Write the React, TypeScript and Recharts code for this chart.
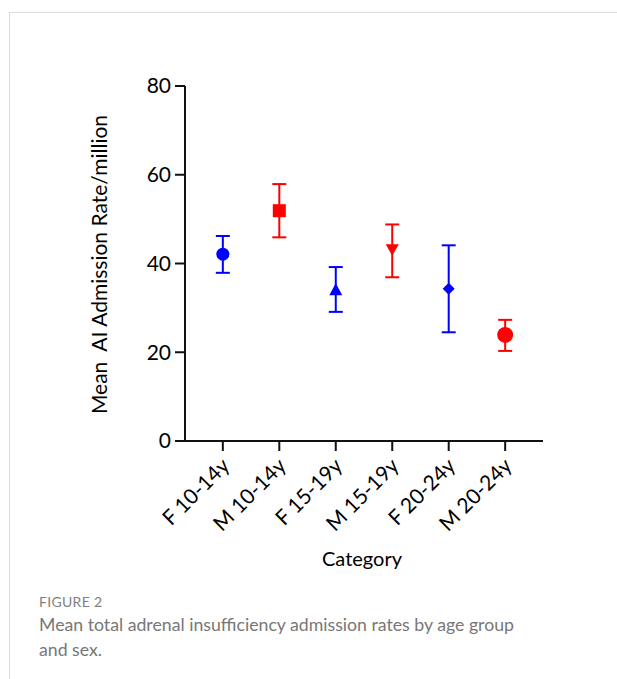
import { ScatterChart, Scatter, XAxis, YAxis, ErrorBar } from 'recharts';

// values (mean, distance to lower cap, distance to upper cap)
const categories = ['F 10-14y', 'M 10-14y', 'F 15-19y', 'M 15-19y', 'F 20-24y', 'M 20-24y'];
const means = [42.1, 51.9, 34.1, 43.1, 34.3, 23.9];
const errLow = [4.2, 6.0, 5.0, 6.2, 9.8, 3.6];
const errHigh = [4.1, 6.0, 5.1, 5.7, 9.8, 3.4];
const yTicks = [0, 20, 40, 60, 80];

// styling per category
const colors = ['#0000ff', '#ff0000', '#0000ff', '#ff0000', '#0000ff', '#ff0000'];
const kinds = ['circle', 'square', 'triangle', 'triangleDown', 'diamond', 'bigCircle'];

const FONT = 'Lato, "Open Sans", sans-serif';

function Marker({ cx, cy, kind, color }: any) {
  if (cx == null || cy == null) return null;
  switch (kind) {
    case 'square':
      return <rect x={cx - 6.5} y={cy - 6.5} width={13} height={13} fill={color} />;
    case 'triangle':
      return <path d={`M${cx},${cy - 6.5} L${cx + 6.5},${cy + 5.5} L${cx - 6.5},${cy + 5.5} Z`} fill={color} />;
    case 'triangleDown':
      return <path d={`M${cx - 6.5},${cy - 5.5} L${cx + 6.5},${cy - 5.5} L${cx},${cy + 6} Z`} fill={color} />;
    case 'diamond':
      return <path d={`M${cx},${cy - 6} L${cx + 6},${cy} L${cx},${cy + 6} L${cx - 6},${cy} Z`} fill={color} />;
    case 'bigCircle':
      return <circle cx={cx} cy={cy} r={8} fill={color} />;
    default:
      return <circle cx={cx} cy={cy} r={6.5} fill={color} />;
  }
}

function XTick({ x, y, payload }: any) {
  return (
    <g transform={`translate(${x + 8},${y + 14})`}>
      <text x={0} y={0} textAnchor="end" transform="rotate(-45)" fontSize={21} fontFamily={FONT} fill="#000">
        {categories[payload.value]}
      </text>
    </g>
  );
}

function YTitle({ viewBox }: any) {
  const cx = viewBox.x - 7;
  const cy = viewBox.y + viewBox.height / 2 + 1;
  return (
    <text
      x={cx}
      y={cy}
      transform={`rotate(-90, ${cx}, ${cy})`}
      textAnchor="middle"
      dominantBaseline="central"
      fontSize={21}
      fontFamily={FONT}
      fill="#000"
      style={{ whiteSpace: 'pre' }}
    >
      {'Mean  AI Admission Rate/million'}
    </text>
  );
}

function XTitle({ viewBox }: any) {
  return (
    <text x={viewBox.x + viewBox.width / 2 - 2} y={566} textAnchor="middle" fontSize={20} fontFamily={FONT} fill="#000">
      Category
    </text>
  );
}

export default function App() {
  const axisStroke = { stroke: '#111', strokeWidth: 2 };
  return (
    <div style={{ position: 'absolute', left: 0, top: 0, width: 617, height: 679, background: '#fff' }}>
      <div
        style={{
          position: 'absolute',
          left: 9,
          top: 12,
          width: 608,
          height: 667,
          borderTop: '1px solid #dcdcdc',
          borderLeft: '1px solid #dcdcdc',
        }}
      />
      <div style={{ position: 'absolute', left: 0, top: 0 }}>
        <ScatterChart width={617} height={679} margin={{ top: 86, right: 74, bottom: 138, left: 105 }}>
          <XAxis
            type="number"
            dataKey="x"
            domain={[-0.67, 5.67]}
            ticks={[0, 1, 2, 3, 4, 5]}
            interval={0}
            height={100}
            tickSize={10}
            axisLine={axisStroke}
            tickLine={axisStroke}
            tick={<XTick />}
            label={<XTitle />}
          />
          <YAxis
            type="number"
            dataKey="y"
            domain={[0, 80]}
            ticks={yTicks}
            width={80}
            tickSize={10}
            tickMargin={4}
            axisLine={axisStroke}
            tickLine={axisStroke}
            tick={{ fontSize: 21, fontFamily: FONT, fill: '#000' }}
            label={<YTitle />}
          />
          {categories.map((c, i) => (
            <Scatter
              key={c}
              name={c}
              data={[{ x: i, y: means[i], err: [errLow[i], errHigh[i]] }]}
              fill={colors[i]}
              isAnimationActive={false}
              shape={(p: any) => <Marker {...p} kind={kinds[i]} color={colors[i]} />}
            >
              <ErrorBar dataKey="err" direction="y" width={7} stroke={colors[i]} strokeWidth={2} isAnimationActive={false} />
            </Scatter>
          ))}
        </ScatterChart>
      </div>
      <div
        style={{
          position: 'absolute',
          left: 39,
          top: 593,
          fontFamily: FONT,
          fontSize: 14,
          color: '#808080',
          letterSpacing: 0.3,
        }}
      >
        FIGURE 2
      </div>
      <div
        style={{
          position: 'absolute',
          left: 39,
          top: 612,
          width: 570,
          fontFamily: FONT,
          fontSize: 17.7,
          lineHeight: '25px',
          color: '#777',
        }}
      >
        Mean total adrenal insufficiency admission rates by age group
        <br />
        and sex.
      </div>
    </div>
  );
}
